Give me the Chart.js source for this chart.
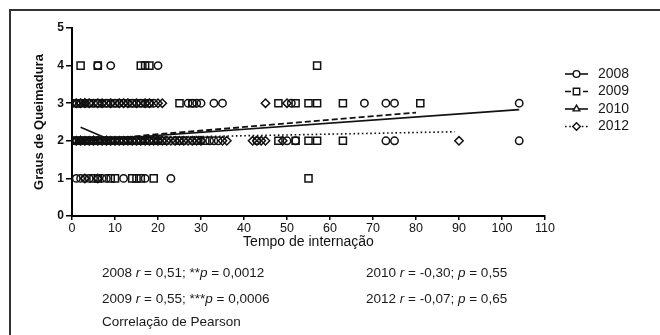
<!DOCTYPE html>
<html><head><meta charset="utf-8">
<script src="https://cdn.jsdelivr.net/npm/chart.js@4"></script>
<style>
html,body{margin:0;padding:0;background:#fff;}
#wrap{position:relative;width:660px;height:335px;overflow:hidden;background:#fff;}
#frame{position:absolute;left:9px;top:9px;width:700px;height:400px;border-left:2px solid #333;border-top:2px solid #333;}
canvas{position:absolute;left:0;top:0;}
.note{position:absolute;font:13.5px "Liberation Sans",Arial,sans-serif;color:#1a1a1a;white-space:nowrap;line-height:16px;}
</style></head>
<body><div id="wrap"><div id="frame"></div><canvas id="c" width="660" height="335"></canvas>
<div class="note" style="left:102px;top:265px">2008 <i>r</i> = 0,51; **<i>p</i> = 0,0012</div>
<div class="note" style="left:366px;top:265px">2010 <i>r</i> = -0,30; <i>p</i> = 0,55</div>
<div class="note" style="left:102px;top:291px">2009 <i>r</i> = 0,55; ***<i>p</i> = 0,0006</div>
<div class="note" style="left:366px;top:291px">2012 <i>r</i> = -0,07; <i>p</i> = 0,65</div>
<div class="note" style="left:102px;top:314px">Correlação de Pearson</div>
</div>
<script>
// ---- data (x = Tempo de internação, y = Grau) ----
const years = ['2008', '2009', '2010', '2012'];
const xTicks = [0,10,20,30,40,50,60,70,80,90,100,110];
const yTicks = [0,1,2,3,4,5];

const pts2008 = [
  [1,1],[2,1],[3,1],[4,1],[7,1],[8,1],[12,1],[17,1],[23,1],
  [0,2],[1,2],[2,2],[3,2],[4,2],[5,2],[6,2],[7,2],[8,2],[9,2],[10,2],[11,2],[12,2],[14,2],[15,2],[16,2],[18,2],[20,2],[22,2],[24,2],[26,2],[28,2],[30,2],[32,2],[33,2],[34,2],[43,2],[50,2],[52,2],[73,2],[75,2],[104,2],
  [0,3],[1,3],[2,3],[3,3],[4,3],[5,3],[6,3],[7,3],[8,3],[9,3],[10,3],[11,3],[12,3],[13,3],[14,3],[15,3],[16,3],[17,3],[18,3],[19,3],[27,3],[28,3],[29,3],[30,3],[33,3],[35,3],[51,3],[68,3],[73,3],[75,3],[104,3],
  [6,4],[9,4],[20,4]
];
const pts2009 = [
  [5,1],[6,1],[9,1],[10,1],[14,1],[15,1],[16,1],[19,1],[55,1],
  [0,2],[1,2],[2,2],[3,2],[4,2],[5,2],[6,2],[7,2],[8,2],[9,2],[10,2],[11,2],[12,2],[13,2],[14,2],[15,2],[16,2],[17,2],[18,2],[19,2],[20,2],[21,2],[25,2],[29,2],[31,2],[48,2],[52,2],[55,2],[57,2],[63,2],
  [1,3],[2,3],[4,3],[6,3],[8,3],[10,3],[14,3],[16,3],[18,3],[25,3],[28,3],[48,3],[52,3],[55,3],[57,3],[63,3],[81,3],
  [2,4],[6,4],[16,4],[17,4],[18,4],[57,4]
];
const pts2010 = [[2,2],[5,2],[8,2],[3,3]];
const pts2012 = [
  [3,1],[6,1],
  [1,2],[2,2],[3,2],[4,2],[5,2],[6,2],[7,2],[8,2],[9,2],[10,2],[11,2],[12,2],[13,2],[14,2],[15,2],[16,2],[17,2],[18,2],[19,2],[20,2],[21,2],[22,2],[23,2],[24,2],[25,2],[26,2],[27,2],[28,2],[29,2],[30,2],[35,2],[36,2],[42,2],[43,2],[44,2],[45,2],[49,2],[90,2],
  [1,3],[2,3],[3,3],[4,3],[6,3],[7,3],[9,3],[11,3],[12,3],[13,3],[15,3],[17,3],[18,3],[20,3],[21,3],[45,3],[50,3]
];
// fitted regression lines (end points)
const fit2008 = [[1,1.99],[104,2.83]];
const fit2009 = [[2,2.0],[80,2.75]];
const fit2010 = [[2,2.36],[8,2.07]];
const fit2012 = [[1,2.05],[89,2.24]];

const toXY = a => a.map(p => ({x:p[0], y:p[1]}));
const ink = '#111';
const styles = [
  {pt:'circle', r:3.7, dash:[], lw:1.6},
  {pt:'rect', r:5, dash:[6,3], lw:1.8},
  {pt:'triangle', r:4.2, dash:[], lw:1.6},
  {pt:'rectRot', r:4.2, dash:[1.6,2.6], lw:1.6}
];
const ptsAll = [pts2008, pts2009, pts2010, pts2012];
const fitAll = [fit2008, fit2009, fit2010, fit2012];

const datasets = [];
years.forEach((yr,i) => {
  datasets.push({label: yr, data: toXY(ptsAll[i]), showLine:false,
    pointStyle: styles[i].pt, pointRadius: styles[i].r, borderColor: ink,
    backgroundColor:'rgba(0,0,0,0)', pointBorderWidth:1.5});
});
years.forEach((yr,i) => {
  datasets.push({label: yr+' fit', data: toXY(fitAll[i]), showLine:true, pointRadius:0,
    borderColor: ink, borderWidth:styles[i].lw, borderDash: styles[i].dash, fill:false});
});

function drawMarker(ctx, st, x, y){
  ctx.beginPath();
  const r = st.r;
  if (st.pt==='circle'){ ctx.arc(x,y,r,0,Math.PI*2); }
  else if (st.pt==='rect'){ const s=r*Math.SQRT1_2; ctx.rect(x-s,y-s,2*s,2*s); }
  else if (st.pt==='triangle'){ ctx.moveTo(x,y-r); ctx.lineTo(x+r*0.87,y+r*0.5); ctx.lineTo(x-r*0.87,y+r*0.5); ctx.closePath(); }
  else { ctx.moveTo(x,y-r); ctx.lineTo(x+r,y); ctx.lineTo(x,y+r); ctx.lineTo(x-r,y); ctx.closePath(); }
  ctx.fillStyle='#fff'; ctx.fill();
  ctx.stroke();
}

const legendPlugin = {
  id:'sideLegend',
  afterDraw(chart){
    const ctx = chart.ctx;
    ctx.save();
    const ys = [74, 91.5, 109, 126.5];
    years.forEach((yr,i) => {
      const y = ys[i];
      ctx.strokeStyle = ink; ctx.lineWidth = 1.6;
      ctx.setLineDash(styles[i].dash);
      ctx.beginPath(); ctx.moveTo(565,y); ctx.lineTo(588,y); ctx.stroke();
      ctx.setLineDash([]); ctx.lineWidth = 1.4;
      drawMarker(ctx, {pt:styles[i].pt, r:styles[i].r*0.9}, 576.5, y);
      ctx.fillStyle = '#1a1a1a';
      ctx.font = '14px "Liberation Sans", Arial, sans-serif';
      ctx.textBaseline = 'middle'; ctx.textAlign = 'left';
      ctx.fillText(yr, 598, y);
    });
    ctx.restore();
  }
};

new Chart(document.getElementById('c'), {
  type:'scatter',
  data:{datasets},
  plugins:[legendPlugin],
  options:{
    responsive:false, animation:false, devicePixelRatio:1,
    layout:{padding:{left:0, top:28, right:115, bottom:84}},
    plugins:{legend:{display:false}, tooltip:{enabled:false}},
    scales:{
      x:{type:'linear', min:0, max:110,
        afterBuildTicks: s => { s.ticks = xTicks.map(v => ({value:v})); },
        afterFit: s => { s.height = 35; },
        ticks:{color:'#111', font:{family:'"Liberation Sans", Arial', size:12.5}, padding:1, maxRotation:0, autoSkip:false},
        grid:{drawOnChartArea:false, tickLength:4, color:'#000', lineWidth:1.5},
        border:{display:true, color:'#000', width:2},
        title:{display:true, text:'Tempo de internação', color:'#111', font:{family:'"Liberation Sans", Arial', size:14}, padding:{top:0,bottom:0}}
      },
      y:{type:'linear', min:0, max:5,
        afterBuildTicks: s => { s.ticks = yTicks.map(v => ({value:v})); },
        afterFit: s => { s.width = 72; },
        ticks:{color:'#111', font:{family:'"Liberation Sans", Arial', size:12, weight:'bold'}, padding:2},
        grid:{drawOnChartArea:false, tickLength:6, color:'#000', lineWidth:1.5},
        border:{display:true, color:'#000', width:2},
        title:{display:true, text:'Graus de Queimadura', color:'#111', font:{family:'"Liberation Sans Narrow", "Liberation Sans", Arial', size:13, weight:'bold'}, padding:{top:32,bottom:0}}
      }
    }
  }
});
</script>
</body></html>
